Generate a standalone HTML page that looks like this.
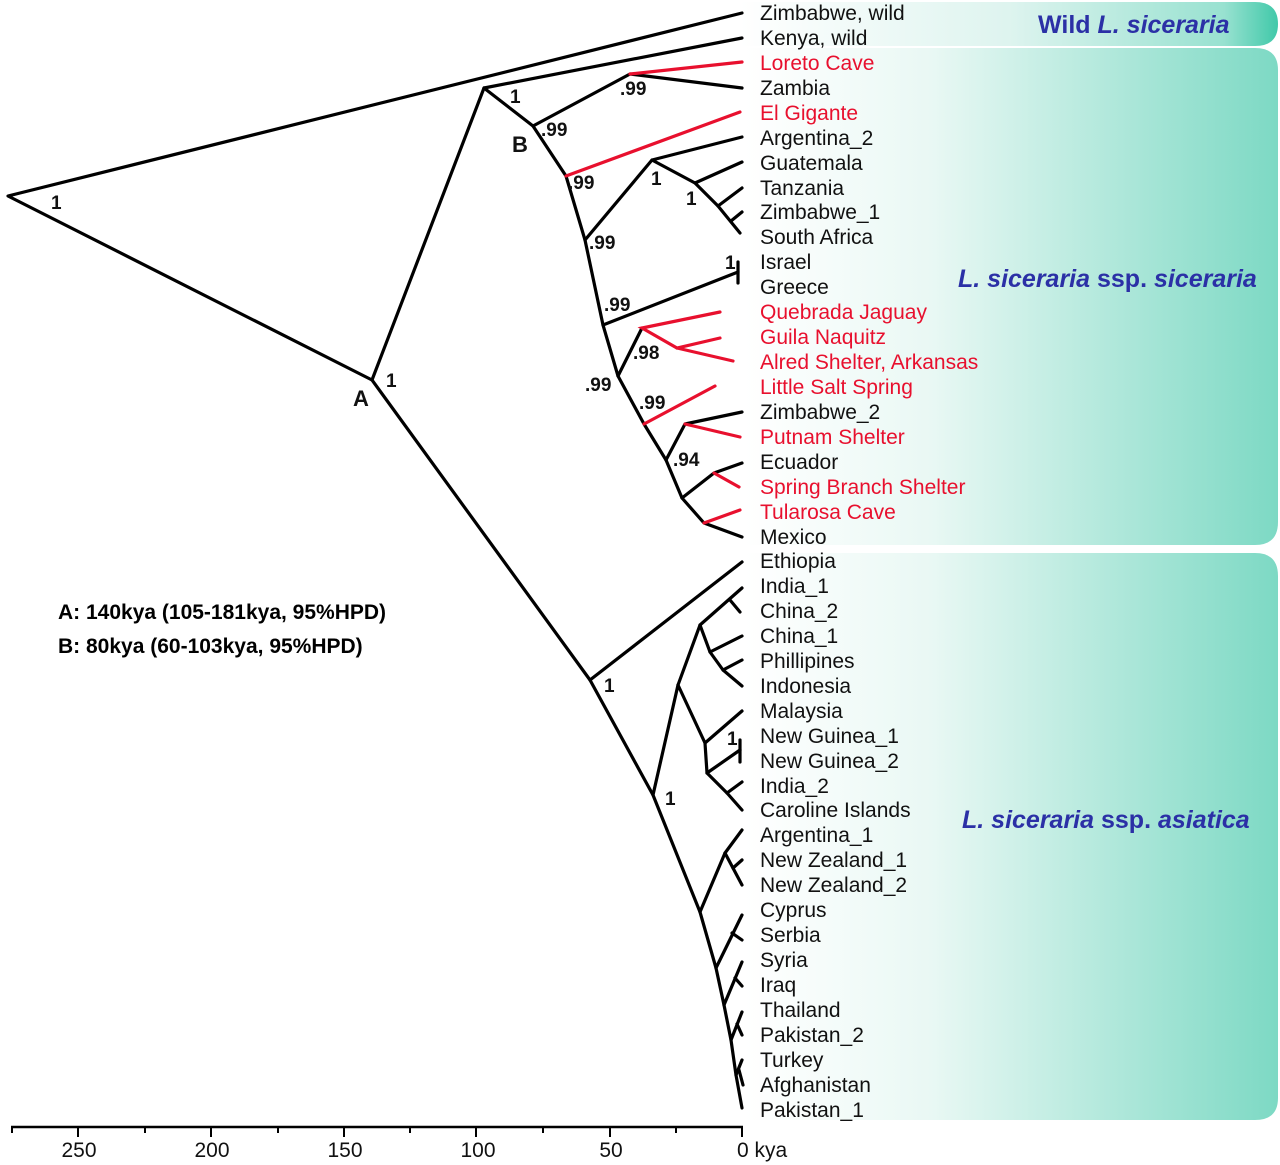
<!DOCTYPE html>
<html><head><meta charset="utf-8"><style>
html,body{margin:0;padding:0;background:#fff;}
svg{display:block;font-family:"Liberation Sans",sans-serif;}
.t{font-size:21px;fill:#111;}
.r{font-size:21px;fill:#e8102e;}
.s{font-size:19px;font-weight:bold;fill:#111;}
.bl{font-size:25px;font-weight:bold;fill:#2b30a6;}
</style></head><body>
<svg width="1280" height="1165" viewBox="0 0 1280 1165">
<defs>
<linearGradient id="g" x1="0" x2="1" y1="0" y2="0">
<stop offset="0" stop-color="#fff"/><stop offset="0.35" stop-color="#e9f8f4"/><stop offset="1" stop-color="#7dd9c4"/>
</linearGradient>
<linearGradient id="g2" x1="0" x2="1" y1="0" y2="0">
<stop offset="0" stop-color="#fff"/><stop offset="0.5" stop-color="#d8f2ec"/><stop offset="0.9" stop-color="#86dcc8"/><stop offset="1" stop-color="#1fbf9a"/>
</linearGradient>
</defs>
<path d="M745,48 H1255 Q1278,48 1278,70 V522 Q1278,545 1255,545 H745 Z" fill="url(#g)"/>
<path d="M745,553 H1255 Q1278,553 1278,576 V1098 Q1278,1120 1255,1120 H745 Z" fill="url(#g)"/>
<path d="M740,2 H1255 Q1278,2 1278,24 Q1278,46 1255,46 H740 Z" fill="url(#g2)" opacity="0.85"/>

<g fill="none" stroke="#000" stroke-width="3.2" stroke-linejoin="round" stroke-linecap="round">
<polyline points="742,13 8,196 372,380 484,88 742,38"/>
<polyline points="484,88 533,126 566,176 585,240 603,325 618,376 644,424 666,460 682,498 704,523 742,537"/>
<polyline points="533,126 630,74 742,88"/>
<polyline points="585,240 652,160 742,137"/>
<polyline points="652,160 695,183 742,162"/>
<polyline points="695,183 718,206 740,233"/>
<line x1="718" y1="206" x2="742" y2="188"/>
<line x1="731" y1="221" x2="742" y2="212"/>
<polyline points="603,325 738,272"/>
<line x1="738" y1="262" x2="738" y2="283"/>
<line x1="618" y1="376" x2="642" y2="328"/>
<polyline points="666,460 685,424 742,412"/>
<polyline points="682,498 714,473 742,463"/>
<polyline points="372,380 590,680 742,562"/>
<polyline points="590,680 653,795 700,912 716,968 724,1005 731,1040 736,1075 742,1108"/>
<polyline points="653,795 678,685 700,625 742,588"/>
<line x1="730" y1="600" x2="740" y2="612"/>
<polyline points="700,625 710,652 723,670 742,686"/>
<line x1="710" y1="652" x2="742" y2="636"/>
<line x1="723" y1="670" x2="742" y2="660"/>
<polyline points="678,685 705,743 742,711"/>
<polyline points="705,743 707,773 740,750"/>
<line x1="740" y1="740" x2="740" y2="762"/>
<polyline points="707,773 727,793 742,810"/>
<line x1="727" y1="793" x2="742" y2="782"/>
<polyline points="700,912 725,853 742,830"/>
<polyline points="725,853 742,885"/>
<line x1="733" y1="868" x2="742" y2="860"/>
<line x1="716" y1="968" x2="742" y2="915"/><line x1="732" y1="933" x2="742" y2="940"/>
<line x1="724" y1="1005" x2="742" y2="962"/><line x1="735" y1="978" x2="742" y2="986"/>
<line x1="731" y1="1040" x2="742" y2="1012"/><line x1="737" y1="1024" x2="742" y2="1035"/>
<line x1="736" y1="1075" x2="742" y2="1060"/><line x1="739" y1="1070" x2="743" y2="1085"/>
</g>
<g fill="none" stroke="#e8102e" stroke-width="3.2" stroke-linecap="round">
<line x1="630" y1="74" x2="742" y2="62"/>
<line x1="566" y1="176" x2="740" y2="112"/>
<polyline points="720,312 642,328 677,348 720,338"/>
<line x1="677" y1="348" x2="733" y2="361"/>
<line x1="644" y1="424" x2="715" y2="386"/>
<line x1="685" y1="424" x2="740" y2="437"/>
<line x1="714" y1="473" x2="739" y2="487"/>
<line x1="704" y1="523" x2="740" y2="510"/>
</g>

<g>
<text class="t" x="760" y="20">Zimbabwe, wild</text>
<text class="t" x="760" y="45">Kenya, wild</text>
<text class="r" x="760" y="70">Loreto Cave</text>
<text class="t" x="760" y="95">Zambia</text>
<text class="r" x="760" y="120">El Gigante</text>
<text class="t" x="760" y="145">Argentina_2</text>
<text class="t" x="760" y="170">Guatemala</text>
<text class="t" x="760" y="195">Tanzania</text>
<text class="t" x="760" y="219">Zimbabwe_1</text>
<text class="t" x="760" y="244">South Africa</text>
<text class="t" x="760" y="269">Israel</text>
<text class="t" x="760" y="294">Greece</text>
<text class="r" x="760" y="319">Quebrada Jaguay</text>
<text class="r" x="760" y="344">Guila Naquitz</text>
<text class="r" x="760" y="369">Alred Shelter, Arkansas</text>
<text class="r" x="760" y="394">Little Salt Spring</text>
<text class="t" x="760" y="419">Zimbabwe_2</text>
<text class="r" x="760" y="444">Putnam Shelter</text>
<text class="t" x="760" y="469">Ecuador</text>
<text class="r" x="760" y="494">Spring Branch Shelter</text>
<text class="r" x="760" y="519">Tularosa Cave</text>
<text class="t" x="760" y="544">Mexico</text>
<text class="t" x="760" y="568">Ethiopia</text>
<text class="t" x="760" y="593">India_1</text>
<text class="t" x="760" y="618">China_2</text>
<text class="t" x="760" y="643">China_1</text>
<text class="t" x="760" y="668">Phillipines</text>
<text class="t" x="760" y="693">Indonesia</text>
<text class="t" x="760" y="718">Malaysia</text>
<text class="t" x="760" y="743">New Guinea_1</text>
<text class="t" x="760" y="768">New Guinea_2</text>
<text class="t" x="760" y="793">India_2</text>
<text class="t" x="760" y="817">Caroline Islands</text>
<text class="t" x="760" y="842">Argentina_1</text>
<text class="t" x="760" y="867">New Zealand_1</text>
<text class="t" x="760" y="892">New Zealand_2</text>
<text class="t" x="760" y="917">Cyprus</text>
<text class="t" x="760" y="942">Serbia</text>
<text class="t" x="760" y="967">Syria</text>
<text class="t" x="760" y="992">Iraq</text>
<text class="t" x="760" y="1017">Thailand</text>
<text class="t" x="760" y="1042">Pakistan_2</text>
<text class="t" x="760" y="1067">Turkey</text>
<text class="t" x="760" y="1092">Afghanistan</text>
<text class="t" x="760" y="1117">Pakistan_1</text>
</g>

<text class="bl" x="1038" y="33">Wild <tspan font-style="italic">L. siceraria</tspan></text>
<text class="bl" x="958" y="287" font-style="italic">L. siceraria <tspan font-style="normal">ssp.</tspan> siceraria</text>
<text class="bl" x="962" y="828" font-style="italic">L. siceraria <tspan font-style="normal">ssp.</tspan> asiatica</text>

<g class="s">
<text class="s" x="51" y="209">1</text>
<text class="s" x="510" y="103">1</text>
<text class="s" x="541" y="136">.99</text>
<text class="s" x="620" y="95">.99</text>
<text x="512" y="152" style="font-size:22px;font-weight:bold">B</text>
<text class="s" x="568" y="189">.99</text>
<text class="s" x="651" y="185">1</text>
<text class="s" x="686" y="205">1</text>
<text class="s" x="589" y="249">.99</text>
<text class="s" x="725" y="269">1</text>
<text class="s" x="604" y="311">.99</text>
<text class="s" x="633" y="359">.98</text>
<text class="s" x="585" y="391">.99</text>
<text class="s" x="639" y="409">.99</text>
<text class="s" x="673" y="466">.94</text>
<text class="s" x="386" y="387">1</text>
<text x="353" y="406" style="font-size:22px;font-weight:bold">A</text>
<text class="s" x="604" y="692">1</text>
<text class="s" x="665" y="805">1</text>
<text class="s" x="727" y="745">1</text>
</g>

<text x="58" y="619" style="font-size:21px;font-weight:bold">A: 140kya (105-181kya, 95%HPD)</text>
<text x="58" y="653" style="font-size:21px;font-weight:bold">B: 80kya (60-103kya, 95%HPD)</text>

<g stroke="#000" stroke-width="2">
<line x1="11" y1="1127" x2="743" y2="1127" stroke-width="2.5"/>
<line x1="78" y1="1127" x2="78" y2="1137"/><line x1="211" y1="1127" x2="211" y2="1137"/>
<line x1="344" y1="1127" x2="344" y2="1137"/><line x1="476" y1="1127" x2="476" y2="1137"/>
<line x1="610" y1="1127" x2="610" y2="1137"/><line x1="742" y1="1127" x2="742" y2="1137"/>
<line x1="12" y1="1127" x2="12" y2="1133"/><line x1="145" y1="1127" x2="145" y2="1133"/>
<line x1="278" y1="1127" x2="278" y2="1133"/><line x1="410" y1="1127" x2="410" y2="1133"/>
<line x1="543" y1="1127" x2="543" y2="1133"/><line x1="676" y1="1127" x2="676" y2="1133"/>
</g>
<g class="t" text-anchor="middle">
<text x="79" y="1157">250</text><text x="212" y="1157">200</text><text x="345" y="1157">150</text>
<text x="478" y="1157">100</text><text x="611" y="1157">50</text>
</g>
<text class="t" x="737" y="1157">0 kya</text>
</svg>
</body></html>
